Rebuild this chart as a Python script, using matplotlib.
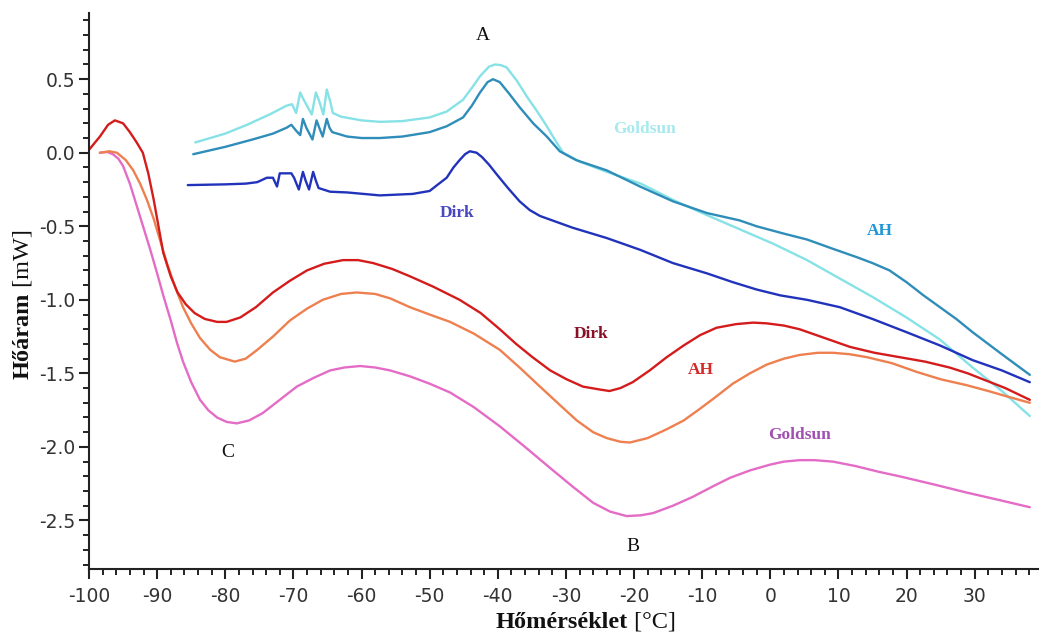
import matplotlib
matplotlib.use("Agg")
import matplotlib.pyplot as plt
from matplotlib.ticker import MultipleLocator, FormatStrFormatter

plt.rcParams['axes.unicode_minus'] = False

# ---------------- data ----------------
# lower group (cooling): Dirk (red), AH (orange), Goldsun (pink)
dirk_low_x = [-100, -98.4, -97.2, -96.2, -95.0, -94.0, -93.0, -92.1, -91.3, -90.5, -89.8, -89.1,
              -88.0, -87.0, -85.8, -84.5, -83.0, -81.2, -79.8, -77.8, -75.5, -73.0, -70.5, -68.0,
              -65.5, -62.7, -60.5, -58.3, -55.5, -52.9, -49.5, -45.6, -42.5, -39.7, -37.3, -34.9,
              -32.3, -29.9, -27.5, -25.0, -23.6, -22.0, -20.2, -17.7, -15.2, -12.7, -10.3, -7.9,
              -5.0, -2.5, -0.5, 2.0, 4.3, 8.0, 11.7, 15.3, 19.0, 22.7, 26.3, 29.0, 31.2, 34.5, 38.1]
dirk_low_y = [0.02, 0.11, 0.19, 0.22, 0.20, 0.14, 0.07, 0.0, -0.14, -0.32, -0.50, -0.68,
              -0.84, -0.95, -1.03, -1.09, -1.13, -1.15, -1.15, -1.12, -1.05, -0.95, -0.87, -0.80,
              -0.755, -0.73, -0.73, -0.75, -0.79, -0.84, -0.91, -1.00, -1.09, -1.20, -1.30, -1.39,
              -1.48, -1.54, -1.59, -1.61, -1.62, -1.60, -1.56, -1.48, -1.39, -1.31, -1.24, -1.19,
              -1.165, -1.155, -1.16, -1.175, -1.20, -1.26, -1.32, -1.36, -1.39, -1.42, -1.46, -1.50,
              -1.54, -1.60, -1.68]

ah_low_x = [-98.4, -97.0, -95.9, -94.6, -93.5, -92.5, -91.5, -90.5, -89.6, -88.5, -87.3, -86.2,
            -85.0, -83.7, -82.2, -80.8, -78.6, -77.0, -75.3, -73.0, -70.5, -68.0, -65.7, -63.0,
            -60.7, -58.0, -55.8, -52.9, -50.0, -47.0, -43.5, -39.7, -36.8, -33.8, -31.0, -28.4,
            -26.0, -24.0, -22.0, -20.6, -18.0, -15.2, -12.7, -10.3, -8.0, -5.5, -3.0, -0.5, 2.0,
            4.3, 7.0, 9.2, 11.7, 14.2, 17.8, 21.5, 25.0, 28.8, 32.0, 35.0, 38.1]
ah_low_y = [0.0, 0.01, 0.0, -0.05, -0.12, -0.21, -0.32, -0.45, -0.59, -0.76, -0.92, -1.05,
            -1.16, -1.26, -1.34, -1.39, -1.42, -1.40, -1.34, -1.25, -1.14, -1.06, -1.00, -0.96,
            -0.95, -0.96, -0.99, -1.05, -1.10, -1.15, -1.23, -1.34, -1.46, -1.59, -1.71, -1.82,
            -1.90, -1.94, -1.965, -1.97, -1.94, -1.88, -1.82, -1.74, -1.66, -1.57, -1.50, -1.44,
            -1.40, -1.375, -1.36, -1.36, -1.37, -1.39, -1.43, -1.49, -1.54, -1.58, -1.62, -1.66, -1.70]

gold_low_x = [-98.4, -97.3, -96.5, -95.7, -95.0, -94.0, -93.0, -92.0, -91.0, -90.0, -89.1, -88.0,
              -87.1, -86.2, -85.0, -83.7, -82.5, -81.2, -79.8, -78.3, -76.5, -74.5, -72.0, -69.5,
              -67.0, -64.6, -62.5, -60.2, -58.0, -55.8, -52.9, -50.0, -47.0, -43.5, -39.7, -36.0,
              -32.4, -29.0, -26.0, -23.5, -21.1, -19.0, -17.2, -14.3, -11.4, -8.5, -5.9, -3.0, 0.0,
              2.0, 4.3, 6.5, 9.2, 12.5, 16.0, 19.0, 24.0, 28.8, 33.5, 38.1]
gold_low_y = [0.0, 0.005, -0.01, -0.04, -0.09, -0.21, -0.36, -0.51, -0.66, -0.82, -0.97, -1.14,
              -1.29, -1.42, -1.56, -1.68, -1.75, -1.80, -1.83, -1.84, -1.82, -1.77, -1.68, -1.59,
              -1.53, -1.48, -1.46, -1.45, -1.46, -1.48, -1.52, -1.57, -1.63, -1.73, -1.86, -2.00,
              -2.14, -2.27, -2.38, -2.44, -2.47, -2.465, -2.45, -2.40, -2.34, -2.27, -2.21, -2.16,
              -2.12, -2.10, -2.09, -2.09, -2.10, -2.13, -2.17, -2.20, -2.255, -2.31, -2.36, -2.41]

# upper group (heating): Goldsun (light cyan), AH (teal), Dirk (blue)
gold_up_x = [-84.4, -80.0, -76.8, -73.5, -71.0, -70.2, -69.6, -69.0, -68.6, -67.3, -66.7, -66.2,
             -65.6, -65.1, -64.6, -64.2, -63.0, -60.0, -57.3, -54.0, -50.0, -47.5, -45.1, -43.5,
             -42.6, -41.3, -40.4, -39.5, -38.7, -37.2, -35.7, -34.2, -32.8, -31.5, -30.4, -28.0,
             -24.0, -19.0, -14.3, -9.5, -4.5, 0.5, 5.4, 10.0, 15.0, 20.0, 24.9, 29.7, 34.0, 38.1]
gold_up_y = [0.07, 0.13, 0.19, 0.26, 0.32, 0.33, 0.27, 0.41, 0.37, 0.26, 0.41, 0.35,
             0.26, 0.43, 0.35, 0.27, 0.245, 0.22, 0.21, 0.215, 0.24, 0.28, 0.36, 0.46,
             0.52, 0.585, 0.60, 0.595, 0.58, 0.49, 0.38, 0.28, 0.18, 0.08, 0.0, -0.06,
             -0.13, -0.21, -0.32, -0.42, -0.52, -0.62, -0.73, -0.85, -0.98, -1.12, -1.27, -1.46,
             -1.62, -1.79]

ah_up_x = [-84.7, -80.0, -76.0, -73.0, -71.0, -70.3, -69.6, -69.0, -68.6, -68.1, -67.2, -66.6,
           -66.2, -65.7, -65.1, -64.7, -64.3, -62.1, -60.0, -57.3, -54.0, -50.0, -47.5, -45.1,
           -43.8, -42.6, -41.5, -40.7, -39.7, -38.3, -36.8, -34.8, -32.8, -30.9, -28.5, -24.0,
           -19.1, -14.3, -9.3, -4.5, -2.0, 2.0, 5.4, 9.0, 12.7, 15.0, 17.5, 20.0, 22.5, 24.9,
           27.3, 29.7, 34.0, 38.1]
ah_up_y = [-0.01, 0.04, 0.09, 0.13, 0.17, 0.19, 0.15, 0.12, 0.23, 0.17, 0.09, 0.22,
           0.17, 0.11, 0.23, 0.17, 0.14, 0.11, 0.10, 0.10, 0.11, 0.14, 0.18, 0.24,
           0.32, 0.41, 0.48, 0.50, 0.48, 0.40, 0.31, 0.20, 0.11, 0.01, -0.05, -0.12,
           -0.23, -0.33, -0.41, -0.46, -0.50, -0.55, -0.59, -0.65, -0.71, -0.75, -0.80, -0.88,
           -0.97, -1.05, -1.13, -1.22, -1.37, -1.51]

dirk_up_x = [-85.5, -80.0, -77.0, -75.3, -73.9, -73.0, -72.4, -72.0, -70.3, -69.9, -69.2, -68.6,
             -68.2, -67.7, -67.1, -66.7, -66.3, -64.6, -62.1, -57.3, -52.5, -50.0, -48.9, -47.5,
             -46.5, -45.6, -44.8, -44.1, -43.1, -42.3, -41.3, -40.1, -38.5, -36.8, -35.3, -33.8,
             -29.0, -24.0, -19.1, -14.3, -9.3, -5.5, -2.0, 1.5, 5.4, 10.2, 15.0, 20.0, 24.9,
             29.7, 34.0, 38.1]
dirk_up_y = [-0.22, -0.215, -0.21, -0.20, -0.17, -0.17, -0.23, -0.14, -0.14, -0.17, -0.25, -0.13,
             -0.19, -0.25, -0.13, -0.19, -0.24, -0.265, -0.27, -0.29, -0.28, -0.26, -0.22, -0.17,
             -0.10, -0.05, -0.01, 0.01, 0.0, -0.03, -0.08, -0.15, -0.24, -0.33, -0.39, -0.43,
             -0.51, -0.58, -0.66, -0.75, -0.82, -0.88, -0.93, -0.97, -1.00, -1.05, -1.13, -1.22,
             -1.31, -1.41, -1.48, -1.56]

x_ticks = [-100, -90, -80, -70, -60, -50, -40, -30, -20, -10, 0, 10, 20, 30]
y_ticks = [0.5, 0.0, -0.5, -1.0, -1.5, -2.0, -2.5]

# ---------------- figure ----------------
W, H = 1041, 635
fig = plt.figure(figsize=(W / 100, H / 100), dpi=100)
ax = fig.add_axes([89 / W, 1 - 569 / H, (1038 - 89) / W, (569 - 13) / H])

lw = 1.7
line_kw = dict(lw=lw, solid_joinstyle='round', solid_capstyle='round')
ax.plot(gold_up_x, gold_up_y, color='#86e2e6', **line_kw)
ax.plot(ah_up_x, ah_up_y, color='#2f8dba', **line_kw)
ax.plot(dirk_up_x, dirk_up_y, color='#2233bb', **line_kw)
ax.plot(gold_low_x, gold_low_y, color='#e46cc6', **line_kw)
ax.plot(ah_low_x, ah_low_y, color='#ee8050', **line_kw)
ax.plot(dirk_low_x, dirk_low_y, color='#d41c1c', **line_kw)

ax.set_xlim(-100, 39.3)
ax.set_ylim(-2.83, 0.95)

for s in ['top', 'right']:
    ax.spines[s].set_visible(False)
for s in ['left', 'bottom']:
    ax.spines[s].set_linewidth(1.5)
    ax.spines[s].set_color('#222222')

ax.set_xticks(x_ticks)
ax.set_yticks(y_ticks)
ax.xaxis.set_minor_locator(MultipleLocator(2))
ax.yaxis.set_minor_locator(MultipleLocator(0.1))
ax.yaxis.set_major_formatter(FormatStrFormatter('%.1f'))
ax.tick_params(which='major', direction='out', length=7, width=1.5, colors='#222222',
               labelsize=13.5, labelcolor='#333333')
ax.tick_params(which='minor', direction='out', length=4.5, width=1.4, colors='#222222')
ax.tick_params(axis='y', which='major', pad=3)
ax.tick_params(axis='x', which='major', pad=6)

# annotations
serif = 'Liberation Serif'
ax.text(-42.2, 0.80, 'A', fontsize=14, family=serif, ha='center', va='center', color='#111111')
ax.text(-20.2, -2.68, 'B', fontsize=14, family=serif, ha='center', va='center', color='#111111')
ax.text(-79.6, -2.04, 'C', fontsize=14, family=serif, ha='center', va='center', color='#111111')

ax.text(-18.4, 0.16, 'Goldsun', fontsize=12.5, family=serif, weight='bold', ha='center',
        va='center', color='#a6eaee')
ax.text(-45.9, -0.41, 'Dirk', fontsize=12.5, family=serif, weight='bold', ha='center',
        va='center', color='#4848c0')
ax.text(16.1, -0.53, 'AH', fontsize=12.5, family=serif, weight='bold', ha='center',
        va='center', color='#2096d6')
ax.text(-26.3, -1.23, 'Dirk', fontsize=12.5, family=serif, weight='bold', ha='center',
        va='center', color='#8a1028')
ax.text(-10.2, -1.48, 'AH', fontsize=12.5, family=serif, weight='bold', ha='center',
        va='center', color='#d42a2a')
ax.text(4.3, -1.92, 'Goldsun', fontsize=12.5, family=serif, weight='bold', ha='center',
        va='center', color='#a050b0')

# axis labels (bold name + regular unit)
fy = 1 - 622 / H
fig.text(628 / W, fy, 'Hőmérséklet', family=serif, weight='bold', fontsize=17.5,
         ha='right', va='center', color='#111111')
fig.text(628 / W, fy, ' [°C]', family=serif, fontsize=17.5, ha='left', va='center',
         color='#111111')
fx = 23 / W
fig.text(fx, 1 - 293 / H, 'Hőáram', family=serif, weight='bold', fontsize=17.5,
         rotation=90, ha='center', va='top', color='#111111')
fig.text(fx, 1 - 293 / H, ' [mW]', family=serif, fontsize=17.5, rotation=90,
         ha='center', va='bottom', color='#111111')

fig.savefig('out.png', dpi=100)
